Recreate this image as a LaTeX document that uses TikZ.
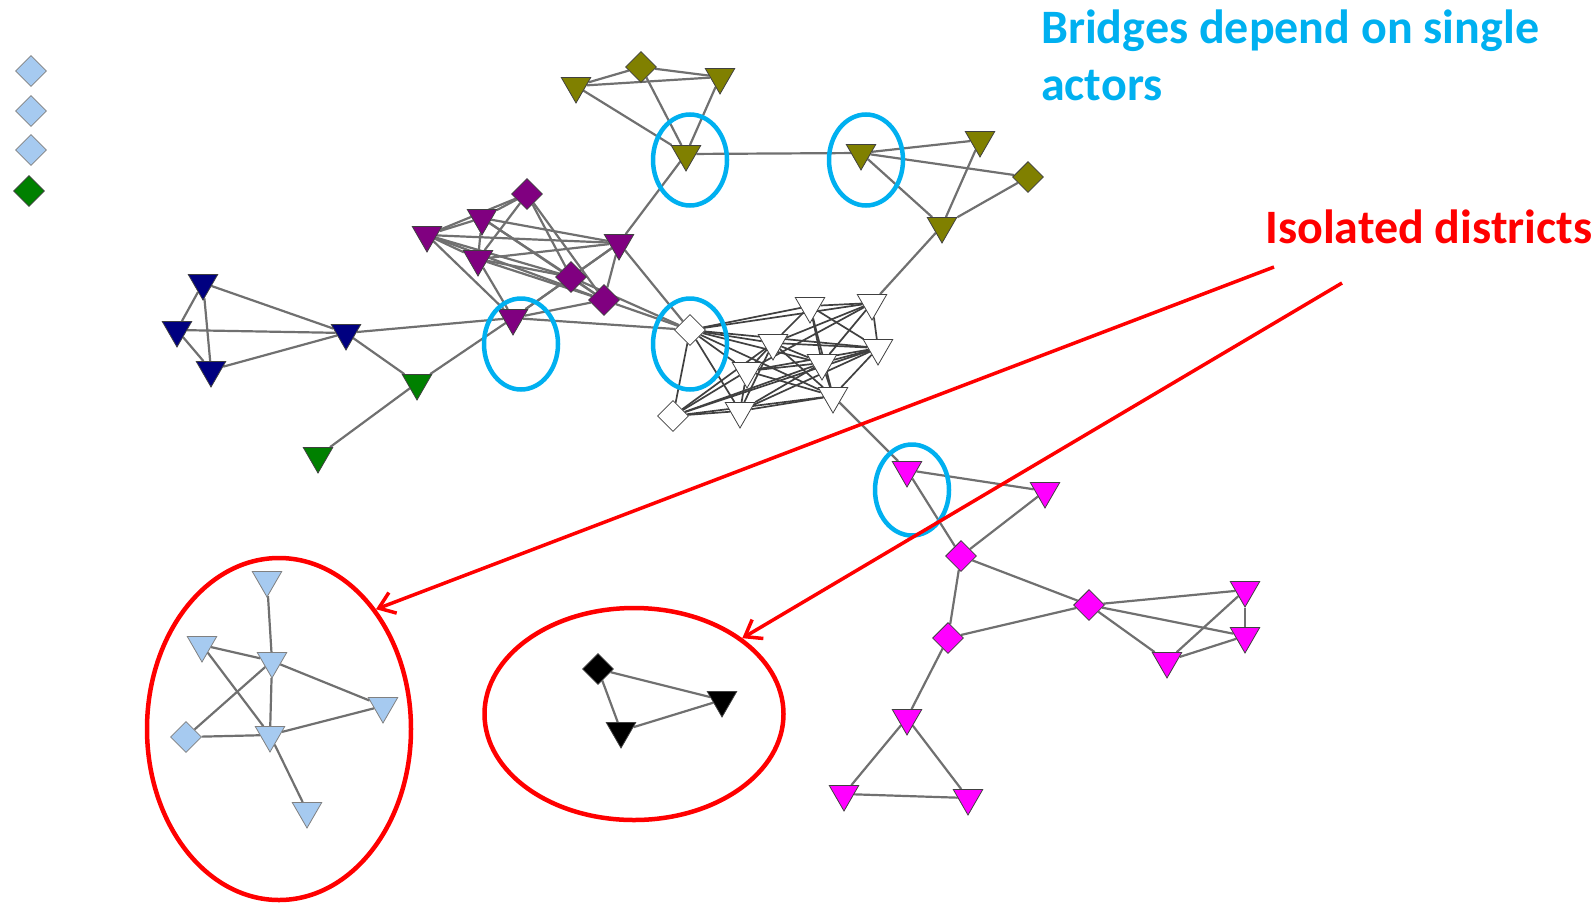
\documentclass[tikz,border=0pt]{standalone}
\usepackage{fontspec}
\setmainfont{Carlito}
\usepackage{tikz}
\usetikzlibrary{positioning, shapes.geometric, fit, backgrounds}
\usetikzlibrary{arrows.meta}

\definecolor{bridgeblue}{RGB}{0,176,240}
\definecolor{isored}{RGB}{255,0,0}
\definecolor{olivec}{RGB}{128,128,0}
\definecolor{purplec}{RGB}{128,0,128}
\definecolor{navyc}{RGB}{0,0,128}
\definecolor{greenc}{RGB}{0,128,0}
\definecolor{magentac}{RGB}{255,0,255}
\definecolor{lightbluec}{RGB}{166,202,240}
\definecolor{edgegray}{RGB}{112,112,112}

\begin{document}
\begin{tikzpicture}[
    x=1pt, y=-1pt,
    down/.style={regular polygon, regular polygon sides=3, shape border rotate=180, draw=black!75, line width=0.8pt, minimum size=34pt, inner sep=0pt},
    dmd/.style={diamond, draw=black!75, line width=0.8pt, minimum size=31pt, inner sep=0pt},
    edge/.style={draw=edgegray, line width=2.2pt},
    dense/.style={draw=black!75, line width=1.7pt},
    bridge/.style={ellipse, draw=bridgeblue, line width=4.5pt, minimum width=74pt, minimum height=91pt, inner sep=0pt},
    district/.style={ellipse, draw=isored, line width=4.5pt, inner sep=0pt},
    pointer/.style={draw=isored, line width=3.5pt, -{Straight Barb[length=15pt,width=22pt]}},
    callout/.style={font=\fontsize{48}{57}\selectfont\bfseries, anchor=base west, align=left, inner sep=0pt}
]
    \useasboundingbox (0,0) rectangle (1594,905);

    % --- Legend (top left)
    \node[dmd, fill=lightbluec, draw=gray] (Lg1) at (31,71) {};
    \node[dmd, fill=lightbluec, draw=gray] (Lg2) at (31,111) {};
    \node[dmd, fill=lightbluec, draw=gray] (Lg3) at (31,150) {};
    \node[dmd, fill=greenc] (Lg4) at (29,191) {};

    % --- Olive group (top)
    \node[down, fill=olivec] (O1) at (576,86) {};
    \node[dmd, fill=olivec]  (O2) at (641,67) {};
    \node[down, fill=olivec] (O3) at (720,77) {};
    \node[down, fill=olivec] (O4) at (686,154) {};
    \node[down, fill=olivec] (O5) at (861,153) {};
    \node[down, fill=olivec] (O6) at (980,140) {};
    \node[dmd, fill=olivec]  (O7) at (1028,177) {};
    \node[down, fill=olivec] (O8) at (942,226) {};

    % --- Purple group
    \node[dmd, fill=purplec]  (P1) at (527,194) {};
    \node[down, fill=purplec] (P2) at (482,218) {};
    \node[down, fill=purplec] (P3) at (427,235) {};
    \node[down, fill=purplec] (P4) at (478,259) {};
    \node[down, fill=purplec] (P5) at (619,243) {};
    \node[dmd, fill=purplec]  (P6) at (571,277) {};
    \node[dmd, fill=purplec]  (P7) at (604,300) {};
    \node[down, fill=purplec] (P8) at (513,318) {};

    % --- Navy and green (left)
    \node[down, fill=navyc]  (N1) at (203,283) {};
    \node[down, fill=navyc]  (N2) at (177,330) {};
    \node[down, fill=navyc]  (N3) at (211,370) {};
    \node[down, fill=navyc]  (N4) at (346,333) {};
    \node[down, fill=greenc] (G1) at (417,383) {};
    \node[down, fill=greenc] (G2) at (318,456) {};

    % --- White group (centre)
    \node[dmd, fill=white]  (W1)  at (690,330) {};
    \node[dmd, fill=white]  (W2)  at (673,416) {};
    \node[down, fill=white] (Wt1) at (810,306) {};
    \node[down, fill=white] (Wt2) at (872,303) {};
    \node[down, fill=white] (Wt3) at (773,343) {};
    \node[down, fill=white] (Wt4) at (878,348) {};
    \node[down, fill=white] (Wt5) at (822,363) {};
    \node[down, fill=white] (Wt6) at (747,371) {};
    \node[down, fill=white] (Wt7) at (833,396) {};
    \node[down, fill=white] (Wt8) at (740,411) {};

    % --- Magenta group (right)
    \node[down, fill=magentac] (M1)  at (907,470) {};
    \node[down, fill=magentac] (M2)  at (1045,491) {};
    \node[dmd, fill=magentac]  (M3)  at (961,556) {};
    \node[dmd, fill=magentac]  (M4)  at (1089,605) {};
    \node[down, fill=magentac] (M5)  at (1245,590) {};
    \node[down, fill=magentac] (M6)  at (1245,636) {};
    \node[down, fill=magentac] (M7)  at (1167,661) {};
    \node[dmd, fill=magentac]  (M8)  at (948,638) {};
    \node[down, fill=magentac] (M9)  at (907,718) {};
    \node[down, fill=magentac] (M10) at (844,794) {};
    \node[down, fill=magentac] (M11) at (968,798) {};

    % --- Light blue district
    \node[down, fill=lightbluec, draw=gray] (L1) at (267,580) {};
    \node[down, fill=lightbluec, draw=gray] (L2) at (202,645) {};
    \node[down, fill=lightbluec, draw=gray] (L3) at (272,661) {};
    \node[down, fill=lightbluec, draw=gray] (L4) at (383,706) {};
    \node[dmd, fill=lightbluec, draw=gray]  (L5) at (186,737) {};
    \node[down, fill=lightbluec, draw=gray] (L6) at (270,735) {};
    \node[down, fill=lightbluec, draw=gray] (L7) at (307,811) {};

    % --- Black district
    \node[dmd, fill=black]  (B1) at (598,669) {};
    \node[down, fill=black] (B2) at (722,700) {};
    \node[down, fill=black] (B3) at (621,731) {};

    \begin{scope}[on background layer]
    \foreach \a/\b in {O1/O2, O1/O3, O2/O3, O1/O4, O2/O4, O3/O4, O4/O5, O4/P5,
        O5/O6, O5/O7, O5/O8, O6/O8, O7/O8, O8/Wt2}
        \draw[edge] (\a) -- (\b);
    \foreach \a/\b in {P3/P1, P3/P2, P3/P4, P3/P5, P3/P6, P3/P7, P3/P8,
        P2/P1, P2/P4, P2/P5, P2/P6, P2/P7, P1/P4, P1/P6, P1/P7,
        P4/P5, P4/P6, P4/P7, P4/P8, P5/P6, P5/P7, P5/P8, P6/P7, P6/P8, P7/P8,
        P5/W1, P6/W1, P7/W1, P8/W1, P8/N4, P8/G1}
        \draw[edge] (\a) -- (\b);
    \foreach \a/\b in {N1/N2, N1/N3, N2/N3, N1/N4, N2/N4, N3/N4, N4/G1, G1/G2}
        \draw[edge] (\a) -- (\b);
    \foreach \a/\b in {W1/W2, W1/Wt1, W1/Wt2, W1/Wt3, W1/Wt4, W1/Wt5, W1/Wt6, W1/Wt7, W1/Wt8,
        W2/Wt3, W2/Wt4, W2/Wt5, W2/Wt6, W2/Wt7, W2/Wt8,
        Wt1/Wt2, Wt1/Wt3, Wt1/Wt4, Wt1/Wt5, Wt1/Wt7,
        Wt2/Wt3, Wt2/Wt4, Wt2/Wt5, Wt2/Wt6,
        Wt3/Wt4, Wt3/Wt5, Wt3/Wt6, Wt3/Wt7, Wt3/Wt8,
        Wt4/Wt5, Wt4/Wt6, Wt4/Wt7, Wt4/Wt8,
        Wt5/Wt6, Wt5/Wt7, Wt5/Wt8, Wt6/Wt7, Wt6/Wt8, Wt7/Wt8}
        \draw[dense] (\a) -- (\b);
    \foreach \a/\b in {Wt7/M1, M1/M2, M1/M3, M2/M3, M3/M4, M3/M8, M8/M4,
        M4/M5, M4/M6, M4/M7, M5/M6, M5/M7, M6/M7, M8/M9, M9/M10, M9/M11, M10/M11}
        \draw[edge] (\a) -- (\b);
    \foreach \a/\b in {L1/L3, L2/L3, L2/L6, L3/L5, L3/L4, L3/L6, L4/L6, L5/L6, L6/L7,
        B1/B2, B1/B3, B2/B3}
        \draw[edge] (\a) -- (\b);
    \end{scope}

    % --- Bridges
    \node[bridge] (BrA) at (690,160) {};
    \node[bridge] (BrB) at (866,160) {};
    \node[bridge] (BrC) at (521,344) {};
    \node[bridge] (BrD) at (690,344) {};
    \node[bridge] (BrE) at (912,490) {};

    % --- Isolated districts
    \node[district, minimum width=264pt, minimum height=342pt] (DistA) at (279,729) {};
    \node[district, minimum width=299pt, minimum height=212pt] (DistB) at (634,714) {};
    \coordinate (ArrA) at (1274,267);
    \coordinate (ArrB) at (1342,283);
    \draw[pointer] (ArrA) -- (DistA.51);
    \draw[pointer] (ArrB) -- (DistB.35);

    \node[callout, text=bridgeblue] (Bridges) at (1041,100) {Bridges depend on single\\actors};
    \node[callout, text=isored] (Isolated) at (1265,243) {Isolated districts};

\end{tikzpicture}
\end{document}
